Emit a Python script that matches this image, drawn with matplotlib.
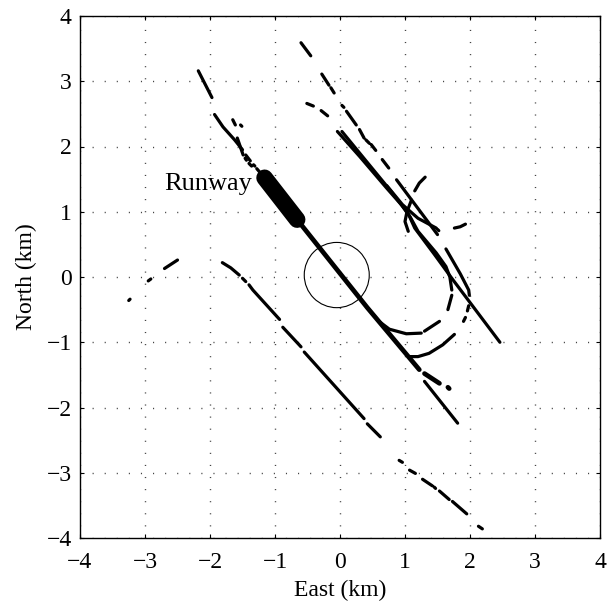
import numpy as np
import matplotlib
matplotlib.use("Agg")
import matplotlib.pyplot as plt
from matplotlib.patches import Circle

nan = np.nan

# radar tracks in km, nan marks a gap in the track
nw_approach_x = [-2.18, -1.97, nan, -1.93, -1.80, -1.62, -1.50, nan, -1.45, -1.38, nan, -1.33, -1.31, nan, -1.28, -1.16]
nw_approach_y = [3.16, 2.75, nan, 2.49, 2.30, 2.10, 1.95, nan, 1.87, 1.78, nan, 1.72, 1.70, nan, 1.66, 1.52]

nw_bits_x = [-1.65, -1.61, nan, -1.53, -1.51, nan, -1.58, -1.49, nan, -1.46, -1.44, nan, -1.40, -1.36]
nw_bits_y = [2.41, 2.33, nan, 2.33, 2.31, nan, 2.13, 1.87, nan, 1.82, 1.79, nan, 1.74, 1.70]

final_x = [-0.66, 0.42, 1.22, nan, 1.30, 1.53, nan, 1.66, 1.68]
final_y = [0.88, -0.47, -1.42, nan, -1.48, -1.63, nan, -1.69, -1.71]

west_x = [-1.81, -1.68, -1.55, nan, -1.50, -1.45, nan, -1.40, -1.34, -0.93, nan, -0.88, -0.60, nan, -0.55, 0.37, nan, 0.42, 0.62]
west_y = [0.22, 0.14, 0.03, nan, -0.02, -0.07, nan, -0.12, -0.20, -0.65, nan, -0.77, -1.07, nan, -1.15, -2.17, nan, -2.25, -2.45]

far_west_x = [-3.25, -3.23, nan, -2.95, -2.91, nan, -2.70, -2.50]
far_west_y = [-0.36, -0.34, nan, -0.06, -0.03, nan, 0.13, 0.26]

south_x = [0.91, 0.96, nan, 1.07, 1.16, nan, 1.27, 1.42, nan, 1.45, 1.47, nan, 1.53, 1.68, nan, 1.73, 1.95, nan, 2.13, 2.19]
south_y = [-2.81, -2.84, nan, -2.96, -3.01, nan, -3.10, -3.20, nan, -3.22, -3.24, nan, -3.28, -3.41, nan, -3.44, -3.63, nan, -3.82, -3.86]

north_x = [-0.60, -0.45, nan, -0.28, -0.17, nan, -0.14, -0.09, nan, 0.03, 0.06, nan, 0.10, 0.25, nan, 0.30, 0.37, nan, 0.40, 0.45, nan,
           0.48, 0.55, nan, 0.65, 0.75, nan, 0.87, 1.50, nan, 1.63, 1.85, 1.98, 1.99, nan, 1.98, 1.96, nan, 1.93, 1.90, nan,
           1.76, 1.58, 1.37, 1.20, 1.07]
north_y = [3.59, 3.39, nan, 3.11, 2.94, nan, 2.90, 2.82, nan, 2.63, 2.60, nan, 2.54, 2.33, nan, 2.26, 2.13, nan, 2.10, 2.05, nan,
           2.03, 1.94, nan, 1.80, 1.67, nan, 1.49, 0.65, nan, 0.43, 0.05, -0.20, -0.28, nan, -0.44, -0.52, nan, -0.62, -0.68, nan,
           -0.88, -1.04, -1.17, -1.22, -1.22]

short_x = [-0.51, -0.41, nan, -0.29, -0.19]
short_y = [2.66, 2.62, nan, 2.55, 2.47]

uturn_x = [-0.04, 0.30, 0.72, 0.95, 1.08, 1.20, 1.48, 1.63, 1.69, 1.72, nan, 1.72, 1.66, nan, 1.53, 1.30, nan, 1.25, 1.02, 0.76, 0.60, 0.42]
uturn_y = [2.23, 1.85, 1.36, 1.10, 0.92, 0.70, 0.37, 0.16, 0.00, -0.20, nan, -0.28, -0.50, nan, -0.68, -0.83, nan, -0.86, -0.87, -0.80, -0.68, -0.47]

east_x = [0.03, 0.40, 0.78, 1.05, 1.15, 1.45, 1.72, 2.46]
east_y = [2.23, 1.78, 1.32, 0.97, 0.75, 0.35, -0.02, -1.00]

cross_x = [0.72, 0.96, 1.20, 1.48, nan, 1.50, 1.52, nan, 1.76, 1.85, 1.93]
cross_y = [1.40, 1.11, 0.90, 0.75, nan, 0.73, 0.71, nan, 0.75, 0.77, 0.81]

hook_x = [1.31, 1.22, 1.15, nan, 1.10, 1.03, 1.00, 1.05]
hook_y = [1.53, 1.44, 1.32, nan, 1.18, 1.00, 0.85, 0.70]

se_x = [1.30, 1.81]
se_y = [-1.60, -2.24]

runway_x = [-1.16, -0.66]
runway_y = [1.52, 0.88]

circle_c = (-0.05, 0.03)
circle_r = 0.5

ticks = [-4, -3, -2, -1, 0, 1, 2, 3, 4]

plt.rcParams['font.family'] = ['Liberation Serif', 'DejaVu Serif']
plt.rcParams['axes.unicode_minus'] = True

fig = plt.figure(figsize=(6.16, 6.04), dpi=100)
ax = fig.add_axes([80 / 616, 1 - 538 / 604, 520 / 616, 522 / 604])

tracks = [
    (nw_approach_x, nw_approach_y), (nw_bits_x, nw_bits_y), (west_x, west_y),
    (far_west_x, far_west_y), (south_x, south_y), (north_x, north_y),
    (short_x, short_y), (uturn_x, uturn_y), (east_x, east_y),
    (cross_x, cross_y), (hook_x, hook_y), (se_x, se_y),
]
for tx, ty in tracks:
    ax.plot(tx, ty, color='black', lw=2.3, solid_capstyle='round')

ax.plot(final_x, final_y, color='black', lw=3.4, solid_capstyle='round')
ax.plot(runway_x, runway_y, color='black', lw=12, solid_capstyle='round')
ax.add_patch(Circle(circle_c, circle_r, fill=False, color='black', lw=0.8))
ax.text(-1.36, 1.43, 'Runway', fontsize=19, ha='right', va='center')

ax.set_xlim(-4, 4)
ax.set_ylim(-4, 4)
ax.set_xticks(ticks)
ax.set_yticks(ticks)
ax.grid(True, color='#444444', lw=1.0, linestyle=(0, (0.8, 7.9)))
ax.tick_params(direction='in', length=3, width=0.8, top=True, right=True, labelsize=17)
ax.tick_params(axis='x', pad=10)
ax.tick_params(axis='y', pad=6)
for s in ax.spines.values():
    s.set_linewidth(1.0)
ax.set_xlabel('East (km)', fontsize=17, labelpad=5)
ax.set_ylabel('North (km)', fontsize=17, labelpad=7)

fig.savefig('out.png', dpi=100)
